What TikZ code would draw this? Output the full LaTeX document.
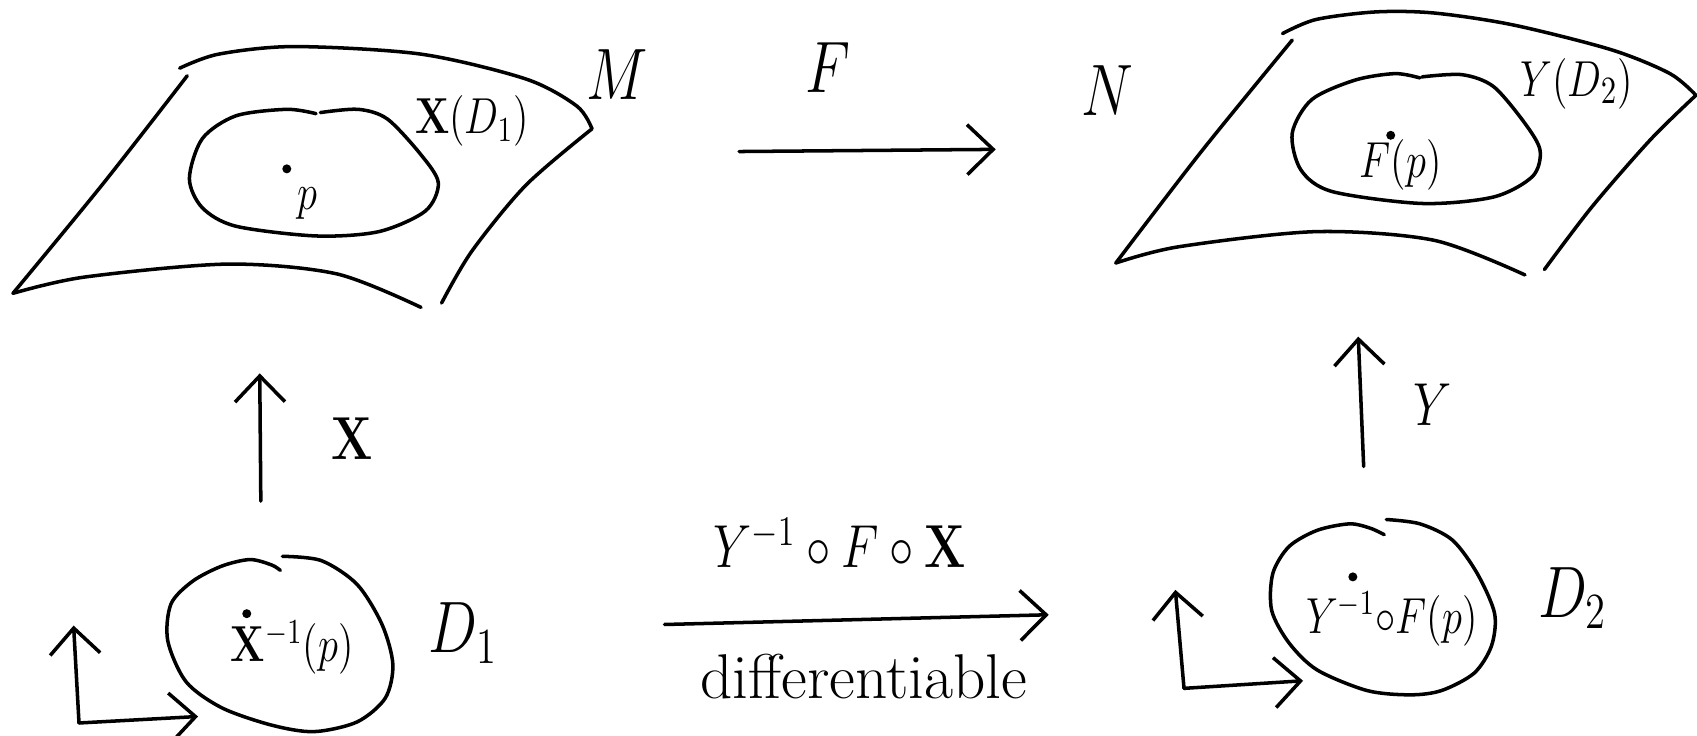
\documentclass[tikz,border=0pt]{standalone}
\usepackage{amsmath,amssymb}
\usepackage{graphicx}
\usepackage{tikz}
\usetikzlibrary{arrows.meta}
\newcommand{\narrow}[1]{\scalebox{0.8}[1]{#1}}

\begin{document}
\begin{tikzpicture}[
  x=0.10823mm, y=-0.10823mm,
  line width=1pt, line cap=round, line join=round,
  map/.style={-{Straight Barb[length=2.6mm, width=5mm]}},
  dot/.style={circle, fill, inner sep=0pt, minimum size=0.9mm},
  tag/.style={inner sep=0pt, font=\fontsize{15}{18}\selectfont},
  big/.style={tag, font=\fontsize{21}{24}\selectfont},
  small/.style={tag, font=\fontsize{14}{16}\selectfont},
  word/.style={tag, font=\fontsize{18}{20}\selectfont}
]
\useasboundingbox (0,0) rectangle (1568,680);

% Surface M with the patch X(D_1).
\draw plot[smooth] coordinates {(166,63) (202,50) (272,43) (389,50) (486,73) (533,98) (547,119)};
\draw plot[smooth] coordinates {(173,70) (95,170) (12,271)};
\draw plot[smooth] coordinates {(12,271) (78,256) (210,244) (311,253) (389,284)};
\draw plot[smooth] coordinates {(547,119) (486,171) (436,232) (408,280)};
\draw plot[smooth] coordinates {(292,105) (265,101) (218,107) (187,128) (175,165) (187,192)
  (218,209) (292,218) (350,214) (393,195) (405,169) (389,143) (358,110) (331,101) (296,104)};
\node[dot] (p) at (265,156) {};
\node[small] (plab) at (284,188) {\narrow{$p$}};
\node[small] (XD) at (436,112) {\narrow{$\mathbf{X}(D_1)$}};
\node[big] (M) at (570,69) {\narrow{$M$}};

% Surface N with the patch Y(D_2).
\draw plot[smooth] coordinates {(1185,31) (1216,18) (1271,11) (1325,12) (1398,23) (1489,46) (1543,68) (1567,88)};
\draw plot[smooth] coordinates {(1194,37) (1110,140) (1031,243)};
\draw plot[smooth] coordinates {(1031,243) (1089,228) (1216,214) (1325,222) (1409,254)};
\draw plot[smooth] coordinates {(1567,88) (1525,129) (1471,191) (1427,249)};
\draw plot[smooth] coordinates {(1312,72) (1289,68) (1252,74) (1212,92) (1194,123) (1202,157)
  (1231,177) (1314,188) (1380,182) (1416,163) (1423,139) (1409,114) (1380,80) (1351,69) (1314,71)};
\node[dot] (Fp) at (1285,125) {};
\node[tag] (Fplab) at (1294,152) {\narrow{$F(p)$}};
\node[tag] (YD) at (1457,77) {\narrow{$Y(D_2)$}};
\node[big] (N) at (1023,84) {\narrow{$N$}};

% F between the surfaces.
\coordinate (Fs) at (683,140);
\coordinate (Ft) at (920,138);
\draw[map] (Fs) -- (Ft);
\node[big] (F) at (765,62) {\narrow{$F$}};

% Domain D_1 and its axes.
\draw plot[smooth] coordinates {(261,514) (297,518) (330,540) (353,577) (363,614) (356,645)
  (330,667) (290,676) (251,670) (205,654) (172,630) (155,592) (158,558) (178,537) (205,523)
  (231,517) (251,522) (259,527)};
\node[dot] (q) at (228,567) {};
\node[small] (qlab) at (270,598) {\narrow{$\mathbf{X}^{-1}(p)$}};
\node[big] (D1) at (428,585) {\narrow{$D_1$}};
\coordinate (o1) at (73,668);
\coordinate (u1) at (68,578);
\coordinate (v1) at (183,662);
\draw[map] (o1) -- (u1);
\draw[map] (o1) -- (v1);

% X lifts D_1 onto M.
\coordinate (Xs) at (241,463);
\coordinate (Xt) at (240,345);
\draw[map] (Xs) -- (Xt);
\node[word] (X) at (325,405) {\narrow{$\mathbf{X}$}};

% Domain D_2 and its axes.
\draw plot[smooth] coordinates {(1281,480) (1312,484) (1342,499) (1365,530) (1381,567) (1378,597)
  (1362,622) (1332,638) (1303,642) (1263,638) (1217,619) (1191,594) (1175,564) (1176,530)
  (1191,505) (1217,490) (1247,484) (1266,488) (1279,494)};
\node[dot] (r) at (1250,533) {};
\node[small] (rlab) at (1286,572) {\narrow{$Y^{-1}{\circ}F(p)$}};
\node[big] (D2) at (1453,553) {\narrow{$D_2$}};
\coordinate (o2) at (1094,636);
\coordinate (u2) at (1086,545);
\coordinate (v2) at (1204,629);
\draw[map] (o2) -- (u2);
\draw[map] (o2) -- (v2);

% Y lifts D_2 onto N.
\coordinate (Ys) at (1260,431);
\coordinate (Yt) at (1255,311);
\draw[map] (Ys) -- (Yt);
\node[word] (Y) at (1324,374) {\narrow{$Y$}};

% Change of coordinates.
\coordinate (Cs) at (614,577);
\coordinate (Ct) at (969,568);
\draw[map] (Cs) -- (Ct);
\node[word] (comp) at (776,502) {\narrow{$Y^{-1}\circ F\circ\mathbf{X}$}};
\node[word] (diff) at (798,625) {differentiable};

\end{tikzpicture}
\end{document}
